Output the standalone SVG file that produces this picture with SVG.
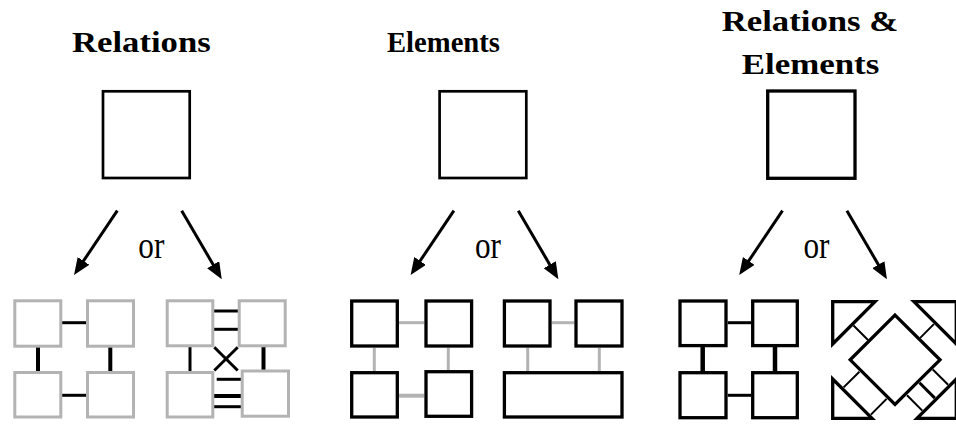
<svg xmlns="http://www.w3.org/2000/svg" width="956" height="425" viewBox="0 0 956 425">
  <style>
    .title { font-family: "Liberation Serif", "Times New Roman", serif; font-weight: bold; font-size: 29px; fill: #000; }
    .or { font-family: "Liberation Serif", "Times New Roman", serif; font-size: 38px; fill: #000; }
    .top { fill: #fff; stroke: #000; stroke-width: 2.7; }
    .gbox { fill: #fff; stroke: #b3b3b3; stroke-width: 3; }
    .bbox { fill: #fff; stroke: #000; stroke-width: 3.3; }
    .blk { stroke: #000; stroke-width: 3; fill: none; }
    .blk4 { stroke: #000; stroke-width: 4; fill: none; }
    .gry { stroke: #b3b3b3; stroke-width: 3; fill: none; }
    .gry4 { stroke: #b3b3b3; stroke-width: 4; fill: none; }
    .thin { stroke: #000; stroke-width: 2; fill: none; }
    .arrow { stroke: #000; stroke-width: 3; fill: none; marker-end: url(#head); }
  </style>
  <defs>
    <marker id="head" markerUnits="userSpaceOnUse" markerWidth="18" markerHeight="14" refX="7" refY="7" orient="auto">
      <path d="M0,0 L17,7 L0,14 Z" fill="#000"/>
    </marker>
  </defs>
  <rect width="956" height="425" fill="#fff"/>

  <!-- titles -->
  <g id="title-relations">
    <text class="title" x="72" y="52" textLength="138.7" lengthAdjust="spacingAndGlyphs">Relations</text>
  </g>
  <g id="title-elements">
    <text class="title" x="387" y="52" textLength="113" lengthAdjust="spacingAndGlyphs">Elements</text>
  </g>
  <g id="title-both">
    <text class="title" x="721.7" y="30.5" textLength="176.6" lengthAdjust="spacingAndGlyphs">Relations &amp;</text>
    <text class="title" x="741.7" y="74" textLength="137.6" lengthAdjust="spacingAndGlyphs">Elements</text>
  </g>

  <!-- source squares -->
  <g id="src-relations"><rect class="top" x="103" y="91.3" width="86.7" height="86.7"/></g>
  <g id="src-elements"><rect class="top" x="439.6" y="91.3" width="86.7" height="86.7"/></g>
  <g id="src-both"><rect class="top" x="767.7" y="91" width="87.3" height="87.3" style="stroke-width:3.3"/></g>

  <!-- "or" labels -->
  <g id="or-labels">
    <text class="or" x="138.3" y="258" textLength="26" lengthAdjust="spacingAndGlyphs">or</text>
    <text class="or" x="474.9" y="258" textLength="26" lengthAdjust="spacingAndGlyphs">or</text>
    <text class="or" x="803.5" y="258" textLength="26" lengthAdjust="spacingAndGlyphs">or</text>
  </g>

  <!-- connectors -->
  <g id="connectors">
    <line class="arrow" x1="117.3" y1="210.7" x2="79.6" y2="266.7"/>
    <line class="arrow" x1="181.7" y1="210.7" x2="216.7" y2="270.7"/>
    <line class="arrow" x1="453.9" y1="210.7" x2="416.2" y2="266.7"/>
    <line class="arrow" x1="518.3" y1="210.7" x2="553.3" y2="270.7"/>
    <line class="arrow" x1="782.5" y1="210.7" x2="744.8" y2="266.7"/>
    <line class="arrow" x1="846.9" y1="210.7" x2="881.9" y2="270.7"/>
  </g>

  <!-- relations, option 1: grey elements joined by single relations -->
  <g id="rel-grid">
    <line class="blk" x1="62" y1="322.7" x2="86" y2="322.7"/>
    <line class="blk" x1="62" y1="395.3" x2="86" y2="395.3"/>
    <line class="blk4" x1="38" y1="347" x2="38" y2="372"/>
    <line class="blk4" x1="110.3" y1="347" x2="110.3" y2="372"/>
    <rect class="gbox" x="14.8" y="300.8" width="46" height="45.4"/>
    <rect class="gbox" x="87.5" y="300.8" width="46" height="45.4"/>
    <rect class="gbox" x="14.8" y="372.5" width="46" height="44.5"/>
    <rect class="gbox" x="87.5" y="372.5" width="46" height="44.5"/>
  </g>

  <!-- relations, option 2: grey elements with multiple and crossed relations -->
  <g id="rel-multi">
    <line class="blk" x1="213" y1="311" x2="239" y2="311"/>
    <line class="blk" x1="213" y1="329.3" x2="239" y2="329.3"/>
    <line class="blk" x1="190" y1="347" x2="190" y2="372"/>
    <line class="blk4" x1="263.5" y1="347" x2="263.5" y2="370"/>
    <line class="blk" x1="214.3" y1="347.3" x2="237.7" y2="370.5"/>
    <line class="blk" x1="237.7" y1="347.3" x2="214.3" y2="370.5"/>
    <line class="blk" x1="216.7" y1="379.3" x2="241" y2="379.3"/>
    <line class="blk4" x1="214" y1="396" x2="241" y2="396"/>
    <line class="blk" x1="214" y1="406.7" x2="241" y2="406.7"/>
    <rect class="gbox" x="167.2" y="300.8" width="45.6" height="45"/>
    <rect class="gbox" x="239.2" y="300.8" width="46" height="45"/>
    <rect class="gbox" x="167.2" y="372.5" width="45.6" height="44.5"/>
    <rect class="gbox" x="242.2" y="371" width="46.3" height="45.2"/>
  </g>

  <!-- elements, option 1: black elements, grey relations -->
  <g id="el-grid">
    <line class="gry" x1="399" y1="322.7" x2="424.3" y2="322.7"/>
    <line class="gry4" x1="399" y1="395.7" x2="424.3" y2="395.7"/>
    <line class="gry" x1="374.3" y1="347.7" x2="374.3" y2="371"/>
    <line class="gry" x1="448.3" y1="347.7" x2="448.3" y2="370"/>
    <rect class="bbox" x="351.7" y="301" width="45.6" height="45"/>
    <rect class="bbox" x="426" y="301" width="45.6" height="45"/>
    <rect class="bbox" x="351.7" y="372.7" width="45.6" height="44.3"/>
    <rect class="bbox" x="426" y="371.7" width="45.6" height="44.6"/>
  </g>

  <!-- elements, option 2: two elements merged into one -->
  <g id="el-merged">
    <line class="gry" x1="551.7" y1="322.7" x2="574.3" y2="322.7"/>
    <line class="gry" x1="527.7" y1="347.7" x2="527.7" y2="371"/>
    <line class="gry" x1="599.3" y1="347.7" x2="599.3" y2="371"/>
    <rect class="bbox" x="504.4" y="301" width="45.6" height="45"/>
    <rect class="bbox" x="576" y="301" width="46" height="45"/>
    <rect class="bbox" x="504.4" y="372.7" width="117.6" height="44.3"/>
  </g>

  <!-- relations and elements, option 1 -->
  <g id="both-grid">
    <line class="blk" x1="727.7" y1="322.7" x2="751" y2="322.7"/>
    <line class="blk" x1="727.7" y1="395.3" x2="751" y2="395.3"/>
    <line class="blk4" x1="702.7" y1="347" x2="702.7" y2="372" style="stroke-width:4.5"/>
    <line class="blk4" x1="775" y1="347" x2="775" y2="372" style="stroke-width:4.5"/>
    <rect class="bbox" x="680" y="301" width="46" height="44.6"/>
    <rect class="bbox" x="752.7" y="301" width="44.6" height="44.6"/>
    <rect class="bbox" x="680" y="372.7" width="46" height="45"/>
    <rect class="bbox" x="752.7" y="372.7" width="44.6" height="45"/>
  </g>

  <!-- relations and elements, option 2: rotated arrangement -->
  <g id="both-rotated">
    <line class="thin" x1="853.5" y1="325.5" x2="868" y2="340"/>
    <line class="thin" x1="920.2" y1="337.9" x2="933.9" y2="324.1"/>
    <line class="thin" x1="843.6" y1="387.4" x2="859.4" y2="371.7"/>
    <line class="thin" x1="870.9" y1="414.6" x2="886.6" y2="398.9"/>
    <line class="thin" x1="907" y1="395.3" x2="922.3" y2="410.6"/>
    <line class="thin" x1="919.5" y1="382.8" x2="934.8" y2="398.1" style="stroke-width:3"/>
    <line class="thin" x1="932.8" y1="369.5" x2="948.1" y2="384.8"/>
    <path class="bbox" d="M832.7,301.7 H875 L832.7,344 Z"/>
    <path class="bbox" d="M956.3,301.7 H914 L956.3,344 Z"/>
    <path class="bbox" d="M832.7,379 V418.3 H872 Z"/>
    <path class="bbox" d="M956.3,379 V418.3 H917 Z"/>
    <path class="bbox" d="M895,315.2 L940,359.8 L895,404.4 L850.2,359.8 Z"/>
  </g>
</svg>
